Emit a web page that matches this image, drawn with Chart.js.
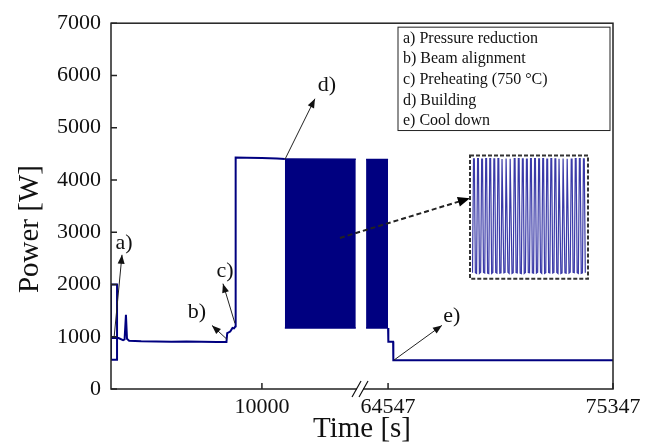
<!DOCTYPE html>
<html><head><meta charset="utf-8">
<script src="https://cdn.jsdelivr.net/npm/chart.js@4/dist/chart.umd.min.js"></script>
<style>
html,body{margin:0;padding:0;background:#fff;}
#wrap{position:relative;width:646px;height:444px;overflow:hidden;}
#main{position:absolute;left:0;top:0;}
#inset{position:absolute;left:472px;top:156px;}
</style></head><body>
<div id="wrap"><canvas id="main" width="646" height="444"></canvas><canvas id="inset" width="114" height="120"></canvas></div>
<script>
// ---------- data (time in s, power in W) ----------
const startTime  = [0, 0, 400, 400, 0, 0, 500, 800, 900, 990, 1060, 1200, 2000, 3000, 4000, 5000, 6000, 7000, 7650, 7700, 7900, 8050, 8150, 8250, 8260, 9000, 10000, 11000, 11520];
const startPower = [980, 2000, 2000, 560, 560, 980, 975, 935, 950, 1420, 960, 925, 915, 910, 905, 910, 905, 900, 900, 1070, 1100, 1170, 1160, 1200, 4430, 4425, 4420, 4410, 4400];
const block1Time   = [11520, 16220];
const block1Top    = [4400, 4395];
const block1Bottom = [1165, 1165];
const block2Time   = [63491, 64547];
const block2Top    = [4390, 4390];
const block2Bottom = [1165, 1165];
const coolTime  = [64547, 64560, 64790, 64800, 66000, 70000, 75347];
const coolPower = [1165, 905, 905, 550, 548, 548, 548];
const xTickValues = [10000, 64547, 75347];
const yTickValues = [0, 1000, 2000, 3000, 4000, 5000, 6000, 7000];
const stageLabels = ['a) Pressure reduction', 'b) Beam alignment', 'c) Preheating (750 °C)', 'd) Building', 'e) Cool down'];
const insetPeak   = [4380, 4390, 4375, 4385, 4390, 4380, 4385, 4375, 4390, 4380, 4385, 4390, 4380, 4375, 4385, 4390, 4380, 4385, 4375, 4390, 4380, 4385, 4390, 4380, 4375, 4385, 4390, 4380];
const insetTrough = [1190, 1170, 1200, 1180, 1165, 1195, 1175, 1185, 1200, 1170, 1190, 1180, 1165, 1195, 1185, 1175, 1200, 1170, 1190, 1180, 1195, 1165, 1185, 1175, 1200, 1190, 1170, 1185];

// ---------- broken time axis ----------
const BREAK_LEFT = 16500, BREAK_RIGHT = 63200, RIGHT_FACTOR = 1.38;
function u(t){ return t <= BREAK_LEFT ? t : BREAK_LEFT + (t - BREAK_RIGHT) * RIGHT_FACTOR; }
const pts = (ts, ps) => ts.map((t, i) => ({x: u(t), y: ps[i]}));

const NAVY = '#000080';
const FONT = 'Liberation Serif';

// annotations in axis units (u, W)
const arrows = [
  {from:[199, 970],   to:[729, 2568],   text:'a)', at:[861, 2796]},
  {from:[7684, 951],  to:[6690, 1217],  text:'b)', at:[5697, 1465]},
  {from:[8214, 1255], to:[7419, 2016],  text:'c)', at:[7551, 2245]},
  {from:[11526, 4394],to:[13513, 5554], text:'d)', at:[14308, 5821]},
  {from:[18746, 552], to:[21925, 1217], text:'e)', at:[22588, 1389]}
];
const zoomArrow = {from:[15169, 2891], to:[23780, 3652]};
const insetBox = {x0:23787, x1:31606, y0:4470, y1:2111};
const legendBox = {x0:19017, x1:33064, y0:6924, y1:4946};

function arrowHead(ctx, x0, y0, x1, y1, len, hw){
  const ang = Math.atan2(y1 - y0, x1 - x0);
  ctx.beginPath();
  ctx.moveTo(x1, y1);
  ctx.lineTo(x1 - len*Math.cos(ang) + hw*Math.sin(ang), y1 - len*Math.sin(ang) - hw*Math.cos(ang));
  ctx.lineTo(x1 - len*Math.cos(ang) - hw*Math.sin(ang), y1 - len*Math.sin(ang) + hw*Math.cos(ang));
  ctx.closePath();
  ctx.fill();
}

const decor = {
  id:'decor',
  afterDraw(chart){
    const {ctx, chartArea:a, scales:{x, y}} = chart;
    const X = v => x.getPixelForValue(v), Y = v => y.getPixelForValue(v);
    ctx.save();
    // frame
    ctx.strokeStyle = '#222'; ctx.lineWidth = 1.5;
    ctx.strokeRect(a.left, a.top, a.right - a.left, a.bottom - a.top);
    // inward ticks
    ctx.beginPath();
    yTickValues.forEach(v => { ctx.moveTo(a.left, Y(v)); ctx.lineTo(a.left + 6, Y(v)); });
    xTickValues.forEach(t => { ctx.moveTo(X(u(t)), a.bottom); ctx.lineTo(X(u(t)), a.bottom - 6); });
    ctx.stroke();
    // axis break
    const b = X(BREAK_LEFT);
    ctx.fillStyle = '#fff';
    ctx.fillRect(b - 3, a.bottom - 2, 6, 4);
    ctx.lineWidth = 1.2; ctx.strokeStyle = '#111';
    ctx.beginPath();
    ctx.moveTo(b - 8, a.bottom + 8); ctx.lineTo(b + 1, a.bottom - 8);
    ctx.moveTo(b - 1, a.bottom + 8); ctx.lineTo(b + 8, a.bottom - 8);
    ctx.stroke();
    // y title
    ctx.fillStyle = '#111';
    ctx.save();
    ctx.translate(a.left - 81, (a.top + a.bottom)/2 + 23);
    ctx.rotate(-Math.PI/2);
    ctx.font = '29px "' + FONT + '"';
    ctx.textAlign = 'center'; ctx.textBaseline = 'middle';
    ctx.fillText('Power [W]', 0, 0);
    ctx.restore();
    // legend box
    const lx0 = X(legendBox.x0), lx1 = X(legendBox.x1), ly0 = Y(legendBox.y0), ly1 = Y(legendBox.y1);
    ctx.lineWidth = 1; ctx.strokeStyle = '#222';
    ctx.strokeRect(lx0, ly0, lx1 - lx0, ly1 - ly0);
    ctx.font = '16px "' + FONT + '"';
    ctx.textAlign = 'left'; ctx.textBaseline = 'middle';
    const step = (ly1 - ly0) / stageLabels.length;
    stageLabels.forEach((s, i) => ctx.fillText(s, lx0 + 5, ly0 + step*(i + 0.5) + 1));
    // annotation arrows
    ctx.strokeStyle = '#222'; ctx.fillStyle = '#111'; ctx.lineWidth = 1;
    ctx.font = '22px "' + FONT + '"';
    ctx.textAlign = 'center';
    arrows.forEach(o => {
      const x0 = X(o.from[0]), y0 = Y(o.from[1]), x1 = X(o.to[0]), y1 = Y(o.to[1]);
      ctx.beginPath(); ctx.moveTo(x0, y0); ctx.lineTo(x1, y1); ctx.stroke();
      arrowHead(ctx, x0, y0, x1, y1, 9, 3.5);
      ctx.fillText(o.text, X(o.at[0]), Y(o.at[1]));
    });
    // dashed arrow to inset
    {
      const x0 = X(zoomArrow.from[0]), y0 = Y(zoomArrow.from[1]), x1 = X(zoomArrow.to[0]), y1 = Y(zoomArrow.to[1]);
      ctx.setLineDash([5, 3]); ctx.lineWidth = 2;
      ctx.beginPath(); ctx.moveTo(x0, y0); ctx.lineTo(x1 - 8, y1 + 2.5); ctx.stroke();
      ctx.setLineDash([]);
      ctx.fillStyle = '#000';
      arrowHead(ctx, x0, y0, x1, y1, 12, 5);
    }
    // inset dashed box
    ctx.setLineDash([4, 2]); ctx.lineWidth = 2; ctx.strokeStyle = '#333';
    const bx0 = X(insetBox.x0), bx1 = X(insetBox.x1), by0 = Y(insetBox.y0), by1 = Y(insetBox.y1);
    ctx.strokeRect(bx0, by0, bx1 - bx0, by1 - by0);
    ctx.setLineDash([]);
    ctx.restore();
  }
};

const lineDs = (data, extra) => Object.assign({data, borderColor:NAVY, borderWidth:2, pointRadius:0, fill:false, tension:0}, extra || {});

const chart = new Chart(document.getElementById('main'), {
  type:'line',
  data:{datasets:[
    lineDs(pts(startTime, startPower)),
    lineDs(pts(block1Time, block1Top), {borderWidth:1.5}),
    lineDs(pts(block1Time, block1Bottom), {borderWidth:1.5, fill:'-1', backgroundColor:NAVY}),
    lineDs(pts(block2Time, block2Top), {borderWidth:1.5}),
    lineDs(pts(block2Time, block2Bottom), {borderWidth:1.5, fill:'-1', backgroundColor:NAVY}),
    lineDs(pts(coolTime, coolPower))
  ]},
  options:{
    responsive:false, animation:false, devicePixelRatio:1,
    layout:{padding:{top:21, right:33, left:0, bottom:0}},
    plugins:{legend:{display:false}, tooltip:{enabled:false}},
    scales:{
      x:{type:'linear', min:0, max:u(75347),
        grid:{display:false, drawTicks:false}, border:{display:false},
        afterBuildTicks(s){ s.ticks = xTickValues.map(t => ({value:u(t)})); },
        afterFit(s){ s.height = 55; },
        ticks:{autoSkip:false, maxRotation:0, padding:5, color:'#111', font:{family:FONT, size:22},
          callback:(v, i) => String(xTickValues[i])},
        title:{display:true, text:'Time [s]', color:'#111', font:{family:FONT, size:29, lineHeight:1}, padding:{top:0, bottom:0}}
      },
      y:{min:0, max:7000,
        grid:{display:false, drawTicks:false}, border:{display:false},
        afterBuildTicks(s){ s.ticks = yTickValues.map(v => ({value:v})); },
        afterFit(s){ s.width = 111; },
        ticks:{padding:10, color:'#111', font:{family:FONT, size:22}, callback:(v) => String(v)}
      }
    }
  },
  plugins:[decor]
});

// ---------- inset (zoom of the building oscillation) ----------
(function(){
  const xs = chart.scales.x, ys = chart.scales.y;
  const c = document.getElementById('inset');
  const l = xs.getPixelForValue(insetBox.x0) + 2, r = xs.getPixelForValue(insetBox.x1) - 2;
  const t = ys.getPixelForValue(insetBox.y0) + 2, btm = ys.getPixelForValue(insetBox.y1) - 2;
  c.style.left = l + 'px'; c.style.top = t + 'px';
  c.width = Math.round(r - l); c.height = Math.round(btm - t);
  const data = [];
  insetPeak.forEach((p, i) => {
    data.push({x:4*i, y:insetTrough[i]});
    data.push({x:4*i + 1, y:p});
    data.push({x:4*i + 1.8, y:p});
    data.push({x:4*i + 2.8, y:insetTrough[i]});
  });
  new Chart(c, {
    type:'line',
    data:{datasets:[{data, borderColor:'#3a3aa8', borderWidth:1.2, pointRadius:0, tension:0, fill:false}]},
    options:{
      responsive:false, animation:false, devicePixelRatio:1,
      layout:{padding:0},
      plugins:{legend:{display:false}, tooltip:{enabled:false}},
      scales:{
        x:{type:'linear', display:false, min:-0.5, max:4*insetPeak.length - 0.5},
        y:{display:false, min:1096, max:4432}
      }
    }
  });
})();
</script>
</body></html>
